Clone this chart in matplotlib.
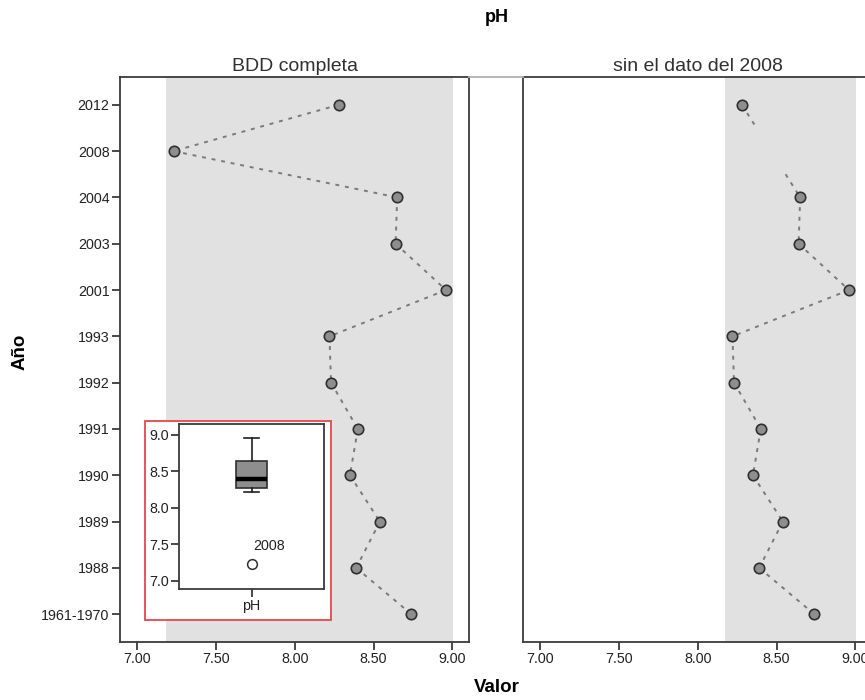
import numpy as np
import matplotlib
matplotlib.use("Agg")
import matplotlib.pyplot as plt
from matplotlib.patches import Rectangle
from matplotlib.lines import Line2D

plt.rcParams['font.family'] = ['Liberation Sans', 'DejaVu Sans']

# pH por año (de arriba hacia abajo)
anios = ["2012", "2008", "2004", "2003", "2001", "1993", "1992",
         "1991", "1990", "1989", "1988", "1961-1970"]
ph_completa = [8.28, 7.23, 8.65, 8.64, 8.96, 8.22, 8.23,
               8.40, 8.35, 8.54, 8.39, 8.74]
ph_sin_2008 = [8.28, np.nan, 8.65, 8.64, 8.96, 8.22, 8.23,
               8.40, 8.35, 8.54, 8.39, 8.74]
titulos = ["BDD completa", "sin el dato del 2008"]
xticks = [7.0, 7.5, 8.0, 8.5, 9.0]
yticks_caja = [7.0, 7.5, 8.0, 8.5, 9.0]

W, H = 865, 700
fig = plt.figure(figsize=(W / 100, H / 100), dpi=100)

eje_col = "#3a3a3a"
texto_col = "#222222"
banda_col = "#e1e1e1"
punto_col = "#8e8e8e"
linea_col = "#7a7a7a"
guion = (0, (2, 3))


def px(x0, y0, x1, y1):
    # caja en pixeles -> coordenadas de figura
    return [x0 / W, 1 - y1 / H, (x1 - x0) / W, (y1 - y0) / H]


def estilo_ejes(ax):
    ax.tick_params(direction="out", length=6, width=1.3, color=eje_col,
                   labelsize=10.3, labelcolor=texto_col, pad=1.5)
    for s in ax.spines.values():
        s.set_color(eje_col)
        s.set_linewidth(1.3)


def panel(ax, valores, titulo, etiquetas_y):
    n = len(anios)
    y = np.arange(n)[::-1]  # 2012 arriba
    v = np.array(valores, dtype=float)
    ok = ~np.isnan(v)

    lo, hi = np.nanmin(v), np.nanmax(v)
    ax.axvspan(lo - 0.045, hi + 0.045, color=banda_col, zorder=0, lw=0)

    # linea punteada; ante un dato faltante solo se dibuja hasta media categoria
    idx = np.where(ok)[0]
    for a, b in zip(idx[:-1], idx[1:]):
        if b - a == 1:
            ax.plot([v[a], v[b]], [y[a], y[b]], ls=guion, color=linea_col,
                    lw=1.4, zorder=2)
        else:
            paso = (v[b] - v[a]) / (b - a)
            ax.plot([v[a], v[a] + 0.5 * paso], [y[a], y[a] - 0.5],
                    ls=guion, color=linea_col, lw=1.4, zorder=2)
            ax.plot([v[b] - 0.5 * paso, v[b]], [y[b] + 0.5, y[b]],
                    ls=guion, color=linea_col, lw=1.4, zorder=2)
    ax.plot(v[ok], y[ok], "o", ms=7.5, mfc=punto_col, mec="#303030",
            mew=1.2, ls="none", zorder=3)

    ax.set_xlim(6.89, 9.106)
    ax.set_ylim(-0.6, n - 0.4)
    ax.set_xticks(xticks)
    ax.set_xticklabels([f"{t:.2f}" for t in xticks])
    ax.set_title(titulo, fontsize=14, color="#303030", pad=4)
    if etiquetas_y:
        ax.set_yticks(y)
        ax.set_yticklabels(anios)
    else:
        ax.set_yticks([])
    estilo_ejes(ax)


ax1 = fig.add_axes(px(120, 77, 469, 642))
ax2 = fig.add_axes(px(523, 77, 872, 642))
panel(ax1, ph_completa, titulos[0], True)
panel(ax2, ph_sin_2008, titulos[1], False)

# union gris entre las dos cabeceras
fig.add_artist(Line2D([469 / W, 523 / W], [1 - 77 / H, 1 - 77 / H],
                      color="#b0b0b0", lw=1.3))

fig.text(497 / W, 1 - 17 / H, "pH", ha="center", va="center",
         fontsize=13, fontweight="bold")
fig.text(497 / W, 1 - 688 / H, "Valor", ha="center", va="center",
         fontsize=13.5, fontweight="bold")
fig.text(20 / W, 1 - 352 / H, "Año", ha="center", va="center",
         rotation=90, fontsize=13.5, fontweight="bold")

# recuadro con el diagrama de caja
fig.add_artist(Rectangle((144.5 / W, 1 - 620 / H), 186.5 / W, 199 / H,
                         transform=fig.transFigure, fill=True,
                         facecolor="white", edgecolor="#e8464c", lw=1.3,
                         zorder=5))
axb = fig.add_axes(px(179, 424, 324, 589), zorder=6)
bp = axb.boxplot([ph_completa], positions=[0], widths=0.26,
                 patch_artist=True,
                 boxprops=dict(facecolor="#8e8e8e", edgecolor="#303030",
                               lw=1.2),
                 medianprops=dict(color="black", lw=3.2),
                 whiskerprops=dict(color="#202020", lw=1.2),
                 capprops=dict(color="#202020", lw=1.2),
                 flierprops=dict(marker="o", mfc="white", mec="#303030",
                                 ms=7, mew=1.1))
out_y = bp["fliers"][0].get_ydata()[0]
axb.annotate("2008", (0, out_y), xytext=(1, 8), textcoords="offset points",
             fontsize=10.3, ha="left", va="bottom", color=texto_col)
axb.set_xlim(-0.6, 0.6)
axb.set_ylim(6.89, 9.147)
axb.set_yticks(yticks_caja)
axb.set_yticklabels([f"{t:.1f}" for t in yticks_caja])
axb.set_xticks([0])
axb.set_xticklabels(["pH"])
estilo_ejes(axb)

fig.savefig("out.png", dpi=100)
